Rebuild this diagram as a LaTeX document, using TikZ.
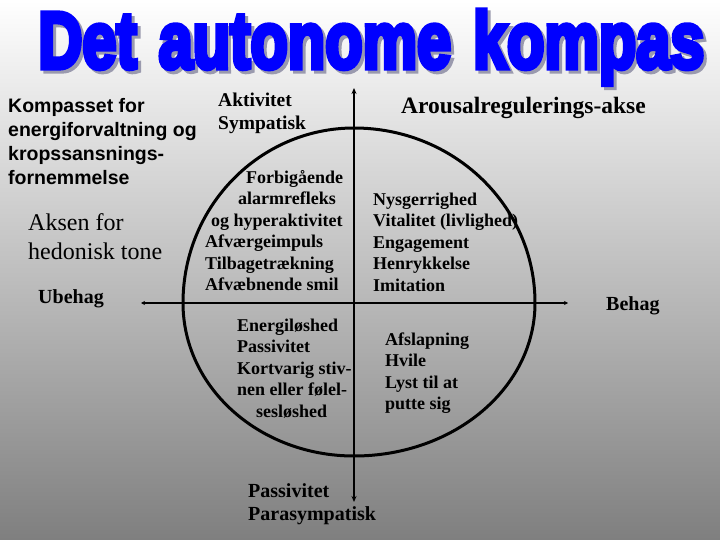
\documentclass[tikz,border=0pt]{standalone}
\usepackage{fontspec}
\setmainfont{Liberation Serif}
\setsansfont{Liberation Sans}
\newfontfamily\titlefont{Liberation Sans}[FakeBold=6.5]
\usetikzlibrary{arrows.meta}
\definecolor{titleblue}{HTML}{0000FF}
\definecolor{shadowgray}{HTML}{9A9AAE}
\definecolor{bgtop}{HTML}{FFFFFF}
\definecolor{bgbot}{HTML}{7F7F7F}
\newcommand{\titletext}{\titlefont\bfseries Det\hspace{0.8pt} autonome\hspace{0.8pt} kompas}

\begin{document}
\begin{tikzpicture}[x=1pt,y=-1pt,
  lbl/.style={font=\bfseries\fontsize{18}{21.5}\selectfont,align=left,anchor=base west,inner sep=0pt},
  biglbl/.style={font=\bfseries\fontsize{20}{23}\selectfont,align=left,anchor=base west,inner sep=0pt},
  sanslbl/.style={font=\sffamily\bfseries\fontsize{19.5}{24}\selectfont,align=left,anchor=base west,inner sep=0pt},
  axis/.style={line width=1.6pt,black},
  oval/.style={line width=3pt,black}]
  \useasboundingbox (0,0) rectangle (720,540);
  \shade[top color=bgtop,bottom color=bgbot] (0,0) rectangle (720,540);

  % ===== title =====
  \node[inner sep=0pt,anchor=base west,text=shadowgray] (titleshadow) at (41,71)
    {\resizebox{666pt}{58pt}{\titletext}};
  \node[inner sep=0pt,anchor=base west,text=titleblue] (title) at (38,68)
    {\resizebox{666pt}{58pt}{\titletext}};

  % ===== axes and compass curve =====
  \coordinate (north) at (354,88);
  \coordinate (south) at (354,502);
  \coordinate (west) at (141,303);
  \coordinate (east) at (568,303);
  \coordinate (ovalW) at (183,303);
  \coordinate (ovalN) at (354,128);
  \coordinate (ovalE) at (535,303);
  \coordinate (ovalS) at (354,456);
  \draw[oval] (ovalW) .. controls (183,206) and (260,128) .. (ovalN)
    .. controls (454,128) and (535,206) .. (ovalE)
    .. controls (535,388) and (454,456) .. (ovalS)
    .. controls (260,456) and (183,388) .. (ovalW) -- cycle;
  \draw[axis,{Stealth[length=6pt,width=5pt]}-{Stealth[length=6pt,width=5pt]}] (north) -- (south);
  \draw[axis,{Stealth[length=4pt,width=4pt]}-{Stealth[length=4pt,width=4pt]}] (west) -- (east);

  % ===== texts (anchored at the baseline of the last line) =====
  \node[sanslbl] (kompasset) at (8,185) {Kompasset for\\energiforvaltning og\\kropssansnings-\\fornemmelse};
  \node[font=\fontsize{24}{29}\selectfont,align=left,anchor=base west,inner sep=0pt] (hedonisk) at (28,259) {Aksen for\\hedonisk tone};
  \node[biglbl] (ubehag) at (38,303) {Ubehag};
  \node[biglbl] (behag) at (606,310) {Behag};
  \node[biglbl,font=\bfseries\fontsize{19.5}{23}\selectfont] (aktivitet) at (218,130) {Aktivitet\\Sympatisk};
  \node[biglbl,font=\bfseries\fontsize{23.5}{28}\selectfont] (arousal) at (401,114) {Arousalregulerings-akse};
  \node[lbl] (alarm) at (205,290.5) {\hspace*{41pt}Forbigående\\\hspace*{33pt}alarmrefleks\\\hspace*{6pt}og hyperaktivitet\\Afværgeimpuls\\Tilbagetrækning\\Afvæbnende smil};
  \node[lbl] (vitalitet) at (373,291) {Nysgerrighed\\Vitalitet (livlighed)\\Engagement\\Henrykkelse\\Imitation};
  \node[lbl] (energi) at (237,417) {Energiløshed\\Passivitet\\Kortvarig stiv-\\nen eller følel-\\\hspace*{19pt}sesløshed};
  \node[lbl] (afslapning) at (385,409.5) {Afslapning\\Hvile\\Lyst til at\\putte sig};
  \node[biglbl] (parasymp) at (248,520) {Passivitet\\Parasympatisk};
\end{tikzpicture}
\end{document}
